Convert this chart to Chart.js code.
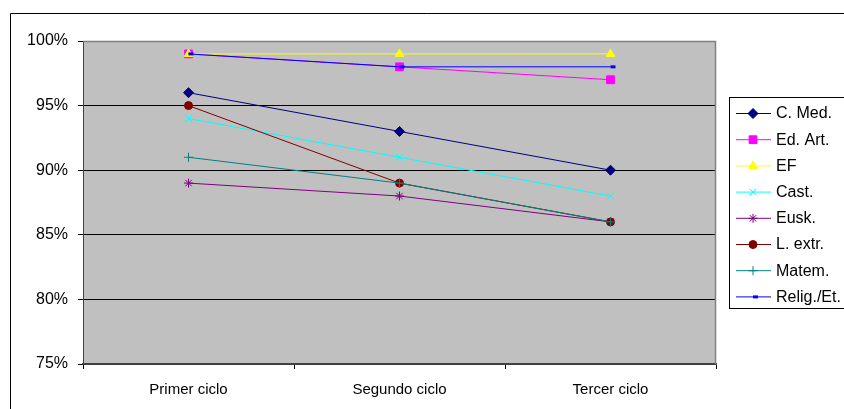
<!DOCTYPE html>
<html>
<head>
<meta charset="utf-8">
<style>
  html, body { margin: 0; padding: 0; background: #fff; }
  canvas { display: block; }
</style>
<script src="https://cdn.jsdelivr.net/npm/chart.js@4/dist/chart.umd.min.js"></script>
</head>
<body>
<canvas id="c" width="844" height="409"></canvas>
<script>
// Categories (school cycles) and percentage per subject
const categories = ['Primer ciclo', 'Segundo ciclo', 'Tercer ciclo'];
const yTicks = [75, 80, 85, 90, 95, 100];

const cMed   = [96, 93, 90];
const edArt  = [99, 98, 97];
const ef     = [99, 99, 99];
const cast   = [94, 91, 88];
const eusk   = [89, 88, 86];
const lExtr  = [95, 89, 86];
const matem  = [91, 89, 86];
const relig  = [99, 98, 98];

const seriesDefs = [
  { label: 'C. Med.',    data: cMed,  color: '#000080', style: 'rectRot',  radius: 5 },
  { label: 'Ed. Art.',   data: edArt, color: '#FF00FF', style: 'rect',     radius: 5.5 },
  { label: 'EF',         data: ef,    color: '#FFFF00', style: 'triangle', radius: 5 },
  { label: 'Cast.',      data: cast,  color: '#00FFFF', style: 'crossRot', radius: 4.5 },
  { label: 'Eusk.',      data: eusk,  color: '#800080', style: 'star',     radius: 4.5 },
  { label: 'L. extr.',   data: lExtr, color: '#800000', style: 'circle',   radius: 4 },
  { label: 'Matem.',     data: matem, color: '#008080', style: 'cross',    radius: 4.5 },
  { label: 'Relig./Et.', data: relig, color: '#0000FF', style: 'dash',     radius: 5 }
];

const N = seriesDefs.length;
const datasets = seriesDefs.map((s, i) => ({
  label: s.label,
  data: s.data,
  borderColor: s.color,
  backgroundColor: s.color,
  borderWidth: 1,
  pointStyle: s.style,
  pointRadius: s.radius,
  pointHoverRadius: s.radius,
  pointBackgroundColor: s.color,
  pointBorderColor: s.color,
  pointBorderWidth: s.style === 'dash' ? 3 : 1,
  tension: 0,
  order: N - i          // later series are painted on top
}));

const PLOT_LEFT = 83, PLOT_TOP = 41, PLOT_RIGHT = 716, PLOT_BOTTOM = 364;

// Plot background, outer frame and plot border
const frame = {
  id: 'frame',
  beforeDraw(chart) {
    const { ctx, chartArea: a } = chart;
    ctx.save();
    ctx.fillStyle = '#fff';
    ctx.fillRect(0, 0, chart.width, chart.height);
    ctx.fillStyle = '#C0C0C0';
    ctx.fillRect(a.left, a.top, a.right - a.left, a.bottom - a.top);
    ctx.strokeStyle = '#000';
    ctx.lineWidth = 1;
    ctx.beginPath();
    ctx.moveTo(10.5, chart.height + 1);
    ctx.lineTo(10.5, 13.5);
    ctx.lineTo(chart.width + 1, 13.5);
    ctx.stroke();
    ctx.restore();
  },
  beforeDatasetsDraw(chart) {
    const { ctx, chartArea: a } = chart;
    ctx.save();
    ctx.strokeStyle = '#808080';
    ctx.lineWidth = 1.5;
    ctx.beginPath();
    ctx.moveTo(a.left, a.top + 0.5);
    ctx.lineTo(a.right - 0.5, a.top + 0.5);
    ctx.lineTo(a.right - 0.5, a.bottom);
    ctx.stroke();
    ctx.restore();
  }
};

// Boxed legend on the right, partly running off the edge
const boxLegend = {
  id: 'boxLegend',
  afterDraw(chart) {
    const { ctx } = chart;
    ctx.save();
    ctx.strokeStyle = '#000';
    ctx.lineWidth = 1;
    ctx.strokeRect(729.5, 97.5, 200, 211);
    chart.data.datasets.forEach((ds, i) => {
      const y = 113 + i * 26.2;
      ctx.strokeStyle = ds.borderColor;
      ctx.lineWidth = 1;
      ctx.beginPath();
      ctx.moveTo(736, y + 0.5);
      ctx.lineTo(771, y + 0.5);
      ctx.stroke();
      ctx.fillStyle = ds.pointBackgroundColor;
      ctx.strokeStyle = ds.pointBorderColor;
      ctx.lineWidth = ds.pointBorderWidth;
      if (Chart.helpers && Chart.helpers.drawPoint) {
        Chart.helpers.drawPoint(ctx, {
          pointStyle: ds.pointStyle,
          radius: ds.pointRadius,
          rotation: 0,
          borderWidth: ds.pointBorderWidth
        }, 753, y + 0.5);
      }
      ctx.fillStyle = '#000';
      ctx.font = "16px 'Liberation Sans', Arial, sans-serif";
      ctx.textAlign = 'left';
      ctx.textBaseline = 'middle';
      ctx.fillText(ds.label, 776, y + 1);
    });
    ctx.restore();
  }
};

new Chart(document.getElementById('c'), {
  type: 'line',
  data: { labels: categories, datasets },
  plugins: [frame, boxLegend],
  options: {
    responsive: false,
    animation: false,
    events: [],
    layout: { padding: { left: 0, top: PLOT_TOP, right: 844 - PLOT_RIGHT, bottom: 0 } },
    plugins: { legend: { display: false }, tooltip: { enabled: false } },
    scales: {
      x: {
        type: 'category',
        offset: true,
        afterFit(scale) { scale.height = 409 - PLOT_BOTTOM; },
        grid: {
          offset: true,
          drawOnChartArea: false,
          drawTicks: true,
          tickLength: 5,
          tickColor: '#000',
          color: '#000'
        },
        border: { display: true, color: '#404040', width: 1.5 },
        ticks: {
          color: '#000',
          padding: 12,
          maxRotation: 0,
          font: { family: "'Liberation Sans', Arial, sans-serif", size: 15 }
        }
      },
      y: {
        min: 75,
        max: 100,
        afterFit(scale) { scale.width = PLOT_LEFT; },
        afterBuildTicks(scale) { scale.ticks = yTicks.map(v => ({ value: v })); },
        grid: {
          color: ctx => {
            const v = ctx.tick && ctx.tick.value;
            if (v === 100) return '#808080';
            if (v === 75) return '#404040';
            return '#000';
          },
          lineWidth: 1,
          tickLength: 5,
          tickColor: '#000'
        },
        border: { display: true, color: '#404040', width: 1 },
        ticks: {
          color: '#000',
          padding: 10,
          callback: v => v + '%',
          font: { family: "'Liberation Sans', Arial, sans-serif", size: 16 }
        }
      }
    }
  }
});
</script>
</body>
</html>
